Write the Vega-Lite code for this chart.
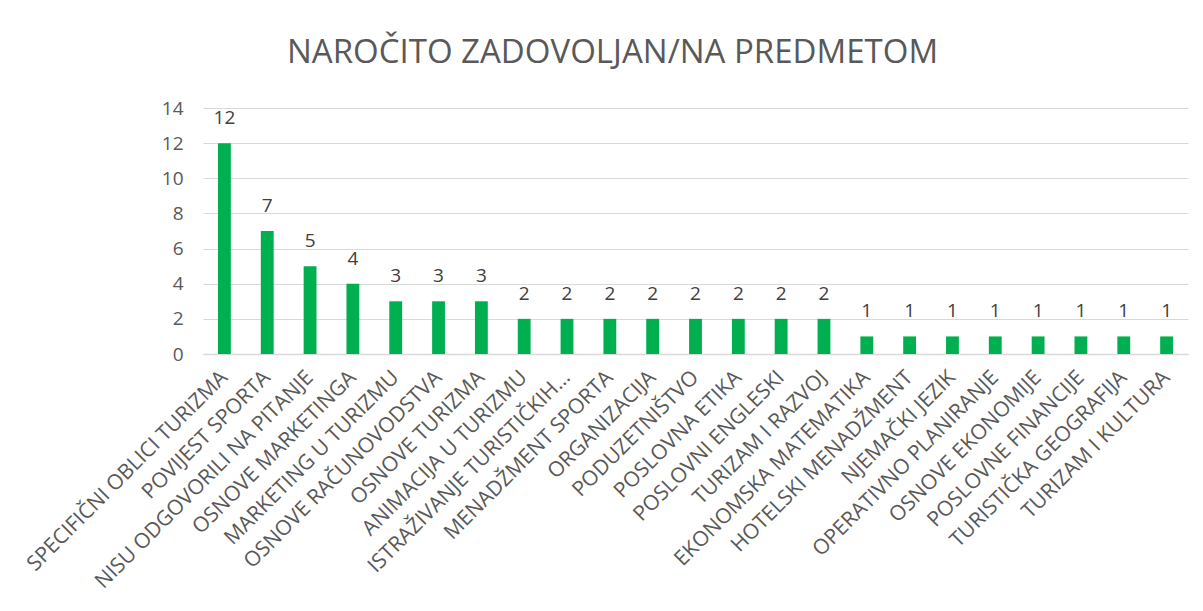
{
  "$schema": "https://vega.github.io/schema/vega-lite/v6.json",
  "width": 985,
  "height": 246,
  "autosize": {"type": "none"},
  "padding": {"left": 203, "top": 108, "right": 15, "bottom": 257},
  "background": "white",
  "title": {
    "text": "NAROČITO ZADOVOLJAN/NA PREDMETOM",
    "font": "Open Sans",
    "fontSize": 33,
    "fontWeight": "normal",
    "color": "#595959",
    "anchor": "middle",
    "dx": -83,
    "offset": 29
  },
  "data": {
    "values": [
      {"predmet": "SPECIFIČNI OBLICI TURIZMA", "broj": 12},
      {"predmet": "POVIJEST SPORTA", "broj": 7},
      {"predmet": "NISU ODGOVORILI NA PITANJE", "broj": 5},
      {"predmet": "OSNOVE MARKETINGA", "broj": 4},
      {"predmet": "MARKETING  U TURIZMU", "broj": 3},
      {"predmet": "OSNOVE RAČUNOVODSTVA", "broj": 3},
      {"predmet": "OSNOVE TURIZMA", "broj": 3},
      {"predmet": "ANIMACIJA U TURIZMU", "broj": 2},
      {"predmet": "ISTRAŽIVANJE TURISTIČKIH…", "broj": 2},
      {"predmet": "MENADŽMENT SPORTA", "broj": 2},
      {"predmet": "ORGANIZACIJA", "broj": 2},
      {"predmet": "PODUZETNIŠTVO", "broj": 2},
      {"predmet": "POSLOVNA ETIKA", "broj": 2},
      {"predmet": "POSLOVNI ENGLESKI", "broj": 2},
      {"predmet": "TURIZAM I RAZVOJ", "broj": 2},
      {"predmet": "EKONOMSKA MATEMATIKA", "broj": 1},
      {"predmet": "HOTELSKI MENADŽMENT", "broj": 1},
      {"predmet": "NJEMAČKI JEZIK", "broj": 1},
      {"predmet": "OPERATIVNO PLANIRANJE", "broj": 1},
      {"predmet": "OSNOVE EKONOMIJE", "broj": 1},
      {"predmet": "POSLOVNE FINANCIJE", "broj": 1},
      {"predmet": "TURISTIČKA GEOGRAFIJA", "broj": 1},
      {"predmet": "TURIZAM I KULTURA", "broj": 1}
    ]
  },
  "encoding": {
    "x": {
      "field": "predmet",
      "type": "nominal",
      "sort": null,
      "scale": {"paddingInner": 0.7, "paddingOuter": 0.35},
      "axis": {
        "title": null,
        "labelAngle": -45,
        "labelAlign": "right",
        "labelBaseline": "middle",
        "labelFont": "Open Sans",
        "labelFontSize": 21,
        "labelColor": "#595959",
        "labelPadding": 20,
        "labelLimit": 400,
        "ticks": false,
        "domainColor": "#d9d9d9",
        "domainWidth": 1.5
      }
    },
    "y": {
      "field": "broj",
      "type": "quantitative",
      "scale": {"domain": [0, 14]},
      "axis": {
        "title": null,
        "values": [0, 2, 4, 6, 8, 10, 12, 14],
        "labelFont": "Open Sans",
        "labelFontSize": 19,
        "labelColor": "#595959",
        "labelPadding": 20,
        "ticks": false,
        "domain": false,
        "gridColor": "#d9d9d9",
        "gridWidth": 1
      }
    }
  },
  "layer": [
    {"mark": {"type": "bar", "color": "#00B050"}},
    {
      "mark": {"type": "text", "dy": -25, "font": "Open Sans", "fontSize": 19, "color": "#404040"},
      "encoding": {"text": {"field": "broj", "type": "quantitative"}}
    }
  ],
  "config": {"view": {"stroke": null}}
}
